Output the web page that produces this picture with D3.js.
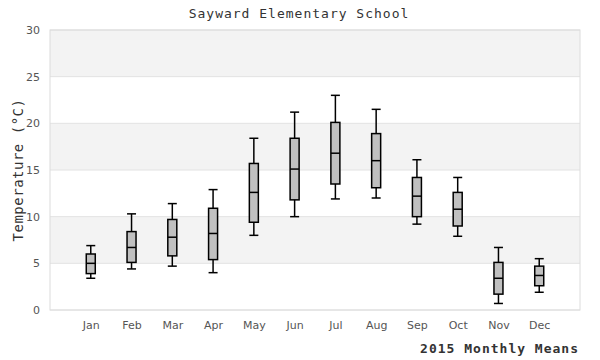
<!DOCTYPE html>
<html>
<head>
<meta charset="utf-8">
<script src="https://cdn.jsdelivr.net/npm/d3@7"></script>
<style>
  body { margin: 0; background: #fff; }
  .tick text { font-family: "DejaVu Sans", Verdana, sans-serif; font-size: 11px; fill: #555; }
  .mono { font-family: "DejaVu Sans Mono", monospace; font-size: 13px; letter-spacing: 1px; fill: #333; }
</style>
</head>
<body>
<div id="canvas"></div>
<script>
// monthly box plot data (deg C)
var months = ['Jan','Feb','Mar','Apr','May','Jun','Jul','Aug','Sep','Oct','Nov','Dec'];
var whiskerLow  = [3.4, 4.4, 4.7, 4.0, 8.0, 10.0, 11.9, 12.0, 9.2, 7.9, 0.7, 1.9];
var boxLow      = [3.9, 5.1, 5.8, 5.4, 9.4, 11.8, 13.5, 13.1, 10.0, 9.0, 1.7, 2.6];
var medians     = [5.0, 6.7, 7.8, 8.2, 12.6, 15.1, 16.8, 16.0, 12.2, 10.8, 3.4, 3.7];
var boxHigh     = [6.0, 8.4, 9.7, 10.9, 15.7, 18.4, 20.1, 18.9, 14.2, 12.6, 5.1, 4.7];
var whiskerHigh = [6.9, 10.3, 11.4, 12.9, 18.4, 21.2, 23.0, 21.5, 16.1, 14.2, 6.7, 5.5];
var yTicks = [0, 5, 10, 15, 20, 25, 30];

var outerWidth = 600, outerHeight = 360;
var m = {t:30, r:20, b:50, l:50};
var w = outerWidth - m.l - m.r,
    h = outerHeight - m.t - m.b;

var svg = d3.select('#canvas')
    .append('svg')
    .attr('width', outerWidth)
    .attr('height', outerHeight);

var plot = svg.append('g')
    .attr('transform', 'translate(' + m.l + ',' + m.t + ')');

var rows = months.map(function(d, i){
    return {month: d, wl: whiskerLow[i], q1: boxLow[i], med: medians[i], q3: boxHigh[i], wh: whiskerHigh[i]};
});

var scaleX = d3.scalePoint().domain(months).range([0, w]).padding(1);
var scaleY = d3.scaleLinear().domain([0, 30]).range([h, 0]);

// alternating bands
var bands = d3.pairs(yTicks).filter(function(d, i){ return i % 2 == 1; });
plot.selectAll('.band')
    .data(bands)
    .enter()
    .append('rect')
    .attr('class', 'band')
    .attr('x', 0)
    .attr('width', w)
    .attr('y', function(d){ return scaleY(d[1]); })
    .attr('height', function(d){ return scaleY(d[0]) - scaleY(d[1]); })
    .style('fill', '#f3f3f3');

// grid lines
plot.selectAll('.grid')
    .data(yTicks)
    .enter()
    .append('line')
    .attr('class', 'grid')
    .attr('x1', 0).attr('x2', w)
    .attr('y1', function(d){ return scaleY(d); })
    .attr('y2', function(d){ return scaleY(d); })
    .style('stroke', '#e2e2e2')
    .style('stroke-width', 1);

plot.append('rect')
    .attr('width', w)
    .attr('height', h)
    .style('fill', 'none')
    .style('stroke', '#dcdcdc');

var axisY = d3.axisLeft().scale(scaleY).tickValues(yTicks).tickSize(0).tickPadding(10);
plot.append('g')
    .attr('class', 'axis axis-y')
    .call(axisY)
    .call(function(g){ g.select('.domain').remove(); });

var axisX = d3.axisBottom().scale(scaleX).tickSize(0).tickPadding(11);
plot.append('g')
    .attr('class', 'axis axis-x')
    .attr('transform', 'translate(0,' + h + ')')
    .call(axisX)
    .call(function(g){ g.select('.domain').remove(); });

// boxes
var bw = 9;
var nodes = plot.selectAll('.month')
    .data(rows)
    .enter()
    .append('g')
    .attr('class', 'month')
    .attr('transform', function(d){ return 'translate(' + scaleX(d.month) + ',0)'; })
    .style('stroke', '#000')
    .style('stroke-width', 1.5);

nodes.append('line')
    .attr('y1', function(d){ return scaleY(d.wl); })
    .attr('y2', function(d){ return scaleY(d.wh); });

nodes.append('line')
    .attr('x1', -bw/2).attr('x2', bw/2)
    .attr('y1', function(d){ return scaleY(d.wh); })
    .attr('y2', function(d){ return scaleY(d.wh); });

nodes.append('line')
    .attr('x1', -bw/2).attr('x2', bw/2)
    .attr('y1', function(d){ return scaleY(d.wl); })
    .attr('y2', function(d){ return scaleY(d.wl); });

nodes.append('rect')
    .attr('x', -bw/2)
    .attr('width', bw)
    .attr('y', function(d){ return scaleY(d.q3); })
    .attr('height', function(d){ return scaleY(d.q1) - scaleY(d.q3); })
    .style('fill', '#c0c0c0');

nodes.append('line')
    .attr('x1', -bw/2).attr('x2', bw/2)
    .attr('y1', function(d){ return scaleY(d.med); })
    .attr('y2', function(d){ return scaleY(d.med); });

// titles
svg.append('text')
    .attr('class', 'mono')
    .attr('x', 299)
    .attr('y', 18)
    .attr('text-anchor', 'middle')
    .text('Sayward Elementary School');

svg.append('text')
    .attr('class', 'mono')
    .attr('transform', 'translate(23,' + (m.t + h/2) + ') rotate(-90)')
    .attr('text-anchor', 'middle')
    .style('font-size', '14px')
    .style('letter-spacing', '0.5px')
    .text('Temperature (°C)');

svg.append('text')
    .attr('class', 'mono')
    .attr('x', 579)
    .attr('y', 353)
    .attr('text-anchor', 'end')
    .style('font-weight', 'bold')
    .text('2015 Monthly Means');
</script>
</body>
</html>
